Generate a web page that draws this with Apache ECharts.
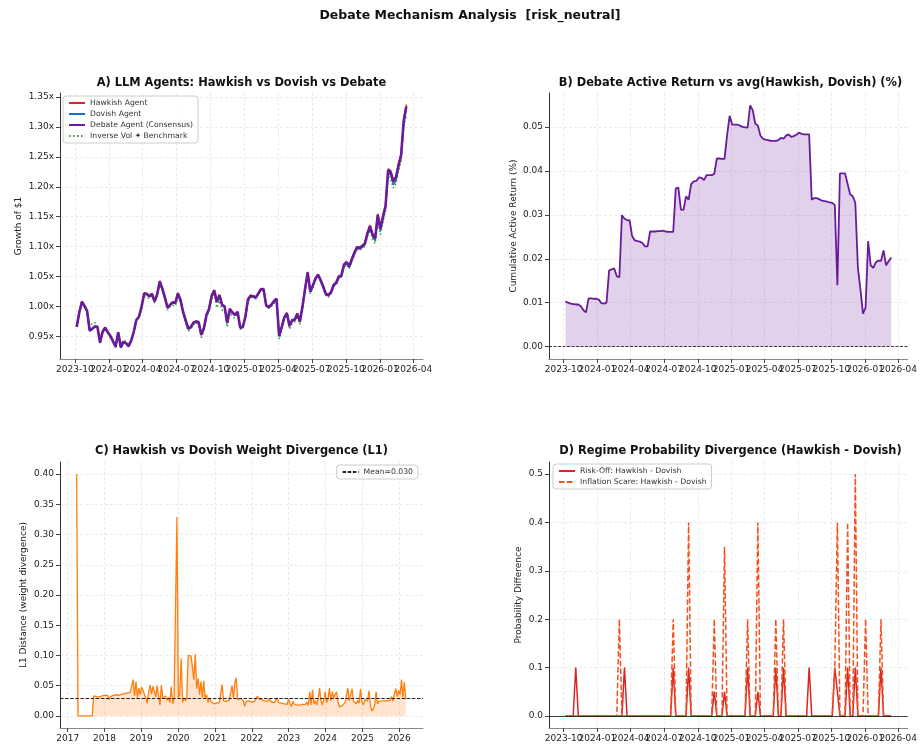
<!DOCTYPE html>
<html>
<head>
<meta charset="utf-8">
<title>Debate Mechanism Analysis</title>
<script src="https://cdn.jsdelivr.net/npm/echarts@6.0.0/dist/echarts.min.js"></script>
<style>
  html, body { margin: 0; padding: 0; background: #fff; }
  #main { width: 920px; height: 747px; }
</style>
</head>
<body>
<div id="main"></div>
<script>
// ---- data ----
// weekly dates (panels A, B, D) start 2023-10-06, 128 weeks
var weekStart = Date.UTC(2023, 9, 6);
var weekCount = 128;
// bi-weekly dates (panel C) start 2017-03-31, 234 points
var biStart = Date.UTC(2017, 2, 31);
var biCount = 234;

var quarterTicks = ['2023-10','2024-01','2024-04','2024-07','2024-10','2025-01','2025-04','2025-07','2025-10','2026-01','2026-04'];
var yearTicks = ['2017','2018','2019','2020','2021','2022','2023','2024','2025','2026'];
var growthTicks = [0.95, 1.00, 1.05, 1.10, 1.15, 1.20, 1.25, 1.30, 1.35];
var activeTicks = [0.00, 0.01, 0.02, 0.03, 0.04, 0.05];
var l1Ticks = [0.00, 0.05, 0.10, 0.15, 0.20, 0.25, 0.30, 0.35, 0.40];
var probTicks = [0.0, 0.1, 0.2, 0.3, 0.4, 0.5];

var debate = [0.966,0.990,1.008,1.001,0.993,0.960,0.963,0.967,0.966,0.940,
 0.958,0.965,0.957,0.951,0.942,0.933,0.957,0.932,0.941,0.939,
 0.934,0.943,0.958,0.978,0.983,1.000,1.022,1.021,1.017,1.021,
 1.009,1.020,1.042,1.030,1.015,0.998,1.003,1.007,1.006,1.022,
 1.011,0.991,0.977,0.963,0.966,0.973,0.975,0.974,0.953,0.964,
 0.986,0.996,1.018,1.027,1.008,1.019,1.003,1.000,0.973,0.996,
 0.990,0.986,0.991,0.965,0.966,0.983,1.012,1.018,1.017,1.015,
 1.022,1.029,1.029,1.002,0.999,1.003,1.009,1.013,0.951,0.966,
 0.982,0.989,0.968,0.977,0.978,0.988,0.975,1.000,1.030,1.057,
 1.025,1.035,1.047,1.053,1.044,1.033,1.021,1.019,1.024,1.036,
 1.040,1.050,1.052,1.070,1.074,1.067,1.079,1.090,1.099,1.098,
 1.101,1.105,1.122,1.134,1.120,1.114,1.153,1.130,1.150,1.168,
 1.228,1.224,1.209,1.215,1.236,1.253,1.310,1.334];

var hawkish = [0.966,0.991,1.009,1.002,0.993,0.961,0.963,0.967,0.966,0.940,
 0.958,0.965,0.957,0.951,0.942,0.933,0.957,0.932,0.941,0.939,
 0.934,0.943,0.958,0.978,0.984,1.001,1.023,1.022,1.018,1.022,
 1.010,1.021,1.043,1.031,1.016,0.999,1.004,1.008,1.007,1.023,
 1.012,0.992,0.978,0.964,0.967,0.974,0.976,0.975,0.954,0.965,
 0.987,0.997,1.019,1.028,1.009,1.020,1.004,1.001,0.974,0.997,
 0.991,0.987,0.992,0.966,0.967,0.984,1.013,1.019,1.018,1.016,
 1.023,1.030,1.030,1.003,1.000,1.004,1.010,1.014,0.952,0.967,
 0.983,0.990,0.969,0.978,0.979,0.989,0.976,1.001,1.031,1.058,
 1.026,1.036,1.048,1.054,1.045,1.034,1.022,1.020,1.025,1.037,
 1.041,1.051,1.053,1.071,1.075,1.068,1.080,1.091,1.100,1.099,
 1.102,1.106,1.123,1.136,1.122,1.116,1.155,1.132,1.152,1.170,
 1.230,1.227,1.211,1.217,1.238,1.255,1.313,1.337];

var dovish = [0.966,0.989,1.007,1.000,0.992,0.959,0.962,0.966,0.965,0.939,
 0.957,0.964,0.956,0.950,0.941,0.932,0.956,0.931,0.940,0.938,
 0.933,0.942,0.957,0.977,0.982,0.999,1.021,1.020,1.016,1.020,
 1.008,1.019,1.041,1.029,1.014,0.997,1.002,1.006,1.005,1.021,
 1.010,0.990,0.976,0.962,0.965,0.972,0.974,0.973,0.952,0.963,
 0.985,0.995,1.017,1.026,1.007,1.018,1.002,0.999,0.972,0.995,
 0.989,0.985,0.990,0.964,0.965,0.982,1.011,1.017,1.016,1.014,
 1.021,1.028,1.028,1.001,0.998,1.002,1.008,1.012,0.950,0.965,
 0.981,0.988,0.967,0.976,0.977,0.987,0.974,0.999,1.029,1.056,
 1.024,1.034,1.046,1.052,1.043,1.032,1.020,1.018,1.023,1.035,
 1.038,1.048,1.050,1.068,1.072,1.065,1.077,1.088,1.097,1.096,
 1.099,1.103,1.120,1.131,1.117,1.110,1.150,1.126,1.146,1.165,
 1.224,1.219,1.203,1.210,1.232,1.249,1.306,1.331];

var benchmark = [0.966,0.988,1.006,1.000,0.990,0.963,0.972,0.973,0.968,0.944,
 0.960,0.962,0.955,0.948,0.944,0.937,0.952,0.936,0.944,0.942,
 0.937,0.945,0.960,0.977,0.981,0.996,1.016,1.015,1.013,1.018,
 1.006,1.016,1.038,1.027,1.012,0.994,1.000,1.002,1.001,1.016,
 1.005,0.986,0.972,0.959,0.963,0.970,0.973,0.970,0.948,0.960,
 0.981,0.992,1.012,1.020,0.998,1.010,0.994,0.993,0.966,0.990,
 0.983,0.981,0.986,0.962,0.963,0.980,1.008,1.015,1.015,1.013,
 1.020,1.027,1.027,1.000,0.997,1.000,1.005,1.009,0.946,0.962,
 0.978,0.984,0.962,0.972,0.974,0.984,0.970,0.996,1.026,1.053,
 1.021,1.032,1.044,1.050,1.041,1.030,1.018,1.016,1.021,1.033,
 1.037,1.047,1.049,1.066,1.070,1.063,1.075,1.086,1.095,1.094,
 1.097,1.100,1.116,1.128,1.112,1.105,1.144,1.120,1.140,1.160,
 1.218,1.212,1.198,1.205,1.226,1.243,1.300,1.318];

var activeReturn = [0.0103,0.0100,0.0098,0.0097,0.0096,0.0096,0.0092,0.0083,0.0078,0.0110,
 0.0110,0.0109,0.0109,0.0107,0.0099,0.0098,0.0100,0.0173,0.0176,0.0178,
 0.0160,0.0158,0.0299,0.0291,0.0288,0.0287,0.0251,0.0242,0.0240,0.0239,
 0.0236,0.0228,0.0228,0.0262,0.0262,0.0262,0.0263,0.0263,0.0264,0.0262,
 0.0261,0.0261,0.0261,0.0360,0.0362,0.0312,0.0311,0.0342,0.0334,0.0370,
 0.0376,0.0377,0.0385,0.0384,0.0379,0.0390,0.0390,0.0390,0.0393,0.0428,
 0.0428,0.0427,0.0427,0.0481,0.0525,0.0505,0.0505,0.0505,0.0503,0.0500,
 0.0499,0.0498,0.0549,0.0538,0.0507,0.0503,0.0480,0.0473,0.0471,0.0470,
 0.0468,0.0468,0.0468,0.0470,0.0475,0.0473,0.0480,0.0483,0.0477,0.0479,
 0.0482,0.0487,0.0484,0.0483,0.0483,0.0483,0.0334,0.0338,0.0338,0.0335,
 0.0332,0.0331,0.0330,0.0328,0.0327,0.0322,0.0140,0.0394,0.0394,0.0394,
 0.0370,0.0346,0.0342,0.0327,0.0180,0.0130,0.0075,0.0089,0.0240,0.0185,
 0.0179,0.0192,0.0196,0.0195,0.0219,0.0185,0.0195,0.0203];

var l1Dist = [0.400,0,0,0,0,0,0,0,0,0,
 0,0,0.033,0.031,0.032,0.033,0.031,0.034,0.033,0.035,
 0.034,0.033,0.034,0.027,0.032,0.033,0.034,0.032,0.035,0.036,
 0.034,0.037,0.036,0.035,0.037,0.036,0.038,0.036,0.039,0.037,
 0.060,0.033,0.057,0.030,0.046,0.035,0.048,0.042,0.045,0.029,
 0.021,0.040,0.051,0.036,0.049,0.052,0.031,0.050,0.032,0.018,
 0.051,0.030,0.028,0.033,0.026,0.030,0.022,0.048,0.020,0.028,
 0.030,0.329,0.030,0.035,0.095,0.022,0.030,0.025,0.030,0.100,
 0.100,0.099,0.100,0.060,0.102,0.045,0.062,0.035,0.057,0.030,
 0.058,0.028,0.035,0.022,0.030,0.024,0.026,0.020,0.019,0.021,
 0.021,0.022,0.024,0.052,0.025,0.026,0.024,0.027,0.026,0.028,
 0.050,0.030,0.055,0.063,0.027,0.026,0.029,0.027,0.025,0.016,
 0.024,0.026,0.025,0.024,0.023,0.020,0.024,0.029,0.033,0.028,
 0.030,0.027,0.029,0.025,0.027,0.024,0.028,0.025,0.023,0.026,
 0.022,0.025,0.030,0.022,0.024,0.021,0.023,0.020,0.022,0.019,
 0.028,0.021,0.015,0.024,0.020,0.019,0.018,0.019,0.018,0.018,
 0.019,0.018,0.019,0.023,0.017,0.040,0.018,0.043,0.020,0.025,
 0.018,0.028,0.046,0.024,0.018,0.027,0.040,0.022,0.028,0.046,
 0.025,0.040,0.030,0.027,0.040,0.024,0.015,0.016,0.017,0.020,
 0.022,0.023,0.046,0.025,0.026,0.045,0.024,0.025,0.020,0.026,
 0.021,0.045,0.023,0.018,0.027,0.024,0.025,0.042,0.018,0.008,
 0.012,0.017,0.040,0.020,0.024,0.026,0.025,0.024,0.025,0.026,
 0.025,0.027,0.026,0.032,0.024,0.037,0.045,0.032,0.042,0.035,
 0.060,0.030,0.056,0.027];
var l1Mean = 0.030;

var riskOff = [0,0,0,0,0.1,0,0,0,0,0,
 0,0,0,0,0,0,0,0,0,0,
 0,0,0,0.1,0,0,0,0,0,0,
 0,0,0,0,0,0,0,0,0,0,
 0,0,0.1,0,0,0,0,0,0.1,0,
 0,0,0,0,0,0,0,0,0.05,0,
 0,0,0.05,0,0,0,0,0,0,0,
 0,0.1,0,0,0,0.05,0,0,0,0,
 0,0,0.1,0,0,0.1,0,0,0,0,
 0,0,0,0,0,0.1,0,0,0,0,
 0,0,0,0,0,0.1,0.05,0,0,0,
 0.1,0,0,0.1,0,0,0,0,0,0,
 0,0,0,0.1,0,0,0,0];

var inflationScare = [0,0,0,0,0,0,0,0,0,0,
 0,0,0,0,0,0,0,0,0,0,
 0,0.2,0,0,0,0,0,0,0,0,
 0,0,0,0,0,0,0,0,0,0,
 0,0,0.2,0,0,0,0,0,0.4,0,
 0,0,0,0,0,0,0,0,0.2,0,
 0,0,0.35,0,0,0,0,0,0,0,
 0,0.2,0,0,0,0.4,0,0,0,0,
 0,0,0.2,0,0,0.2,0,0,0,0,
 0,0,0,0,0,0,0,0,0,0,
 0,0,0,0,0,0.1,0.4,0,0,0,
 0.4,0,0,0.5,0,0,0,0.2,0,0,
 0,0,0,0.2,0,0,0,0];

// ---- helpers ----
var DAY = 86400000;
var weekDates = [];
for (var i = 0; i < weekCount; i++) weekDates.push(weekStart + i * 7 * DAY);
var biDates = [];
for (var j = 0; j < biCount; j++) biDates.push(biStart + j * 14 * DAY);

function pairs(dates, vals) { return vals.map(function (v, k) { return [dates[k], v]; }); }
function ym(s) { var p = s.split('-'); return Date.UTC(+p[0], p[1] ? +p[1] - 1 : 0, 1); }
var quarterVals = quarterTicks.map(ym);
var quarterEven = quarterVals.filter(function (v, k) { return k % 2 === 0; });
var quarterOdd = quarterVals.filter(function (v, k) { return k % 2 === 1; });
var yearVals = yearTicks.map(ym);
function fmtYM(v) { var d = new Date(v); var m = d.getUTCMonth() + 1; return d.getUTCFullYear() + '-' + (m < 10 ? '0' + m : m); }
function fmtY(v) { return String(new Date(v).getUTCFullYear()); }

var FONT = 'DejaVu Sans';
var gridLine = { show: true, lineStyle: { color: '#e6e6e6', type: [3, 2], width: 0.8 } };
var labelStyle = { fontSize: 9, color: '#222', fontFamily: FONT };

// dates are plotted on a numeric axis (ms timestamps) so the quarter/year ticks can be placed exactly
function dateAxis(gi, min, max, ticks, labels, fmt) {
  return {
    type: 'value', gridIndex: gi, min: min, max: max, scale: true, position: 'bottom',
    axisLine: { show: true, onZero: false, lineStyle: { color: '#888', width: 1 } },
    axisTick: { show: true, length: 4, customValues: ticks, lineStyle: { color: '#444' } },
    axisLabel: Object.assign({ customValues: labels, formatter: fmt, margin: 6, hideOverlap: false }, labelStyle),
    splitLine: gridLine
  };
}
// label-only twin axis: carries the other half of the crowded quarter labels
function labelAxis(gi, min, max, labels, fmt) {
  return {
    type: 'value', gridIndex: gi, min: min, max: max, scale: true, position: 'bottom', offset: 0,
    axisLine: { show: false, onZero: false }, axisTick: { show: false }, splitLine: { show: false },
    axisLabel: Object.assign({ customValues: labels, formatter: fmt, margin: 6, hideOverlap: false }, labelStyle)
  };
}
function valueAxis(gi, min, max, ticks, fmt, name, gap) {
  return {
    type: 'value', gridIndex: gi, min: min, max: max,
    name: name, nameLocation: 'middle', nameGap: gap,
    nameTextStyle: { fontSize: 9, color: '#222', fontFamily: FONT },
    axisLine: { show: true, lineStyle: { color: '#333', width: 1 } },
    axisTick: { show: true, length: 4, customValues: ticks, lineStyle: { color: '#444' } },
    axisLabel: Object.assign({ customValues: ticks, formatter: fmt, margin: 6 }, labelStyle),
    splitLine: gridLine
  };
}
function panelTitle(text, x, top) {
  return { text: text, left: x, top: top, textAlign: 'center', padding: 0,
    textStyle: { fontSize: 11.4, fontWeight: 'bold', color: '#111', fontFamily: FONT } };
}
var legendBase = {
  orient: 'vertical', itemWidth: 16, itemHeight: 8, itemGap: 3,
  itemStyle: { opacity: 0 },
  textStyle: { fontSize: 7.7, color: '#333', fontFamily: FONT },
  borderColor: '#ccc', borderWidth: 1, borderRadius: 3, padding: [3, 5, 3, 5],
  backgroundColor: 'rgba(255,255,255,0.85)'
};

var tMin = Date.UTC(2023, 7, 22), tMax = Date.UTC(2026, 3, 27);
var cMin = Date.UTC(2016, 9, 17), cMax = Date.UTC(2026, 7, 24);
var meanName = 'Mean=' + l1Mean.toFixed(3);

var chart = echarts.init(document.getElementById('main'));
var option = {
  animation: false,
  backgroundColor: '#fff',
  title: [
    { text: 'Debate Mechanism Analysis  [risk_neutral]', left: 470, top: 9, textAlign: 'center', padding: 0,
      textStyle: { fontSize: 12.5, fontWeight: 'bold', color: '#111', fontFamily: FONT } },
    panelTitle('A) LLM Agents: Hawkish vs Dovish vs Debate', 241.5, 78),
    panelTitle('B) Debate Active Return vs avg(Hawkish, Dovish) (%)', 730.5, 78),
    panelTitle('C) Hawkish vs Dovish Weight Divergence (L1)', 241.5, 446),
    panelTitle('D) Regime Probability Divergence (Hawkish - Dovish)', 730.5, 446)
  ],
  legend: [
    Object.assign({}, legendBase, { left: 63, top: 96,
      data: ['Hawkish Agent', 'Dovish Agent', 'Debate Agent (Consensus)', 'Inverse Vol ✦ Benchmark'] }),
    Object.assign({}, legendBase, { right: 502, top: 465, data: [meanName] }),
    Object.assign({}, legendBase, { left: 553, top: 464,
      data: ['Risk-Off: Hawkish - Dovish', 'Inflation Scare: Hawkish - Dovish'] })
  ],
  grid: [
    { left: 60, top: 93, width: 363, height: 266 },
    { left: 549, top: 93, width: 363, height: 266 },
    { left: 60, top: 462, width: 363, height: 266 },
    { left: 549, top: 462, width: 363, height: 266 }
  ],
  xAxis: [
    dateAxis(0, tMin, tMax, quarterVals, quarterEven, fmtYM),
    dateAxis(1, tMin, tMax, quarterVals, quarterEven, fmtYM),
    dateAxis(2, cMin, cMax, yearVals, yearVals, fmtY),
    dateAxis(3, tMin, tMax, quarterVals, quarterEven, fmtYM),
    labelAxis(0, tMin, tMax, quarterOdd, fmtYM),
    labelAxis(1, tMin, tMax, quarterOdd, fmtYM),
    labelAxis(3, tMin, tMax, quarterOdd, fmtYM)
  ],
  yAxis: [
    valueAxis(0, 0.9125, 1.3565, growthTicks, function (v) { return v.toFixed(2) + 'x'; }, 'Growth of $1', 37),
    valueAxis(1, -0.0028, 0.0577, activeTicks, function (v) { return v.toFixed(2); }, 'Cumulative Active Return (%)', 31),
    valueAxis(2, -0.02, 0.42, l1Ticks, function (v) { return v.toFixed(2); }, 'L1 Distance (weight divergence)', 32),
    valueAxis(3, -0.025, 0.525, probTicks, function (v) { return v.toFixed(1); }, 'Probability Difference', 26)
  ],
  series: [
    { name: 'Hawkish Agent', type: 'line', xAxisIndex: 0, yAxisIndex: 0, symbol: 'none', z: 2,
      data: pairs(weekDates, hawkish), lineStyle: { color: '#d62728', width: 1.5 }, itemStyle: { color: '#d62728' } },
    { name: 'Dovish Agent', type: 'line', xAxisIndex: 0, yAxisIndex: 0, symbol: 'none', z: 2,
      data: pairs(weekDates, dovish), lineStyle: { color: '#1f6fc6', width: 1.5 }, itemStyle: { color: '#1f6fc6' } },
    { name: 'Inverse Vol ✦ Benchmark', type: 'line', xAxisIndex: 0, yAxisIndex: 0, symbol: 'none', z: 2,
      data: pairs(weekDates, benchmark), lineStyle: { color: '#2ca02c', width: 1.5, type: [1.5, 2.5] }, itemStyle: { color: '#2ca02c' } },
    { name: 'Debate Agent (Consensus)', type: 'line', xAxisIndex: 0, yAxisIndex: 0, symbol: 'none', z: 3,
      data: pairs(weekDates, debate), lineStyle: { color: '#6a1b9a', width: 2.6 }, itemStyle: { color: '#6a1b9a' } },

    { name: 'Active Return', type: 'line', xAxisIndex: 1, yAxisIndex: 1, symbol: 'none',
      data: pairs(weekDates, activeReturn),
      lineStyle: { color: '#6a1b9a', width: 1.8 }, itemStyle: { color: '#6a1b9a' },
      areaStyle: { color: '#6a1b9a', opacity: 0.2 },
      markLine: { silent: true, symbol: 'none', label: { show: false },
        lineStyle: { color: '#111', width: 0.8, type: [3, 1.5] }, data: [{ yAxis: 0 }] } },

    { name: 'L1', type: 'line', xAxisIndex: 2, yAxisIndex: 2, symbol: 'none',
      data: pairs(biDates, l1Dist),
      lineStyle: { color: '#ff7f0e', width: 1.3 }, itemStyle: { color: '#ff7f0e' },
      areaStyle: { color: '#ff7f0e', opacity: 0.2 } },
    { name: meanName, type: 'line', xAxisIndex: 2, yAxisIndex: 2, symbol: 'none', data: [],
      lineStyle: { color: '#222', width: 1, type: [3.5, 1.6] }, itemStyle: { color: '#222' },
      markLine: { silent: true, symbol: 'none', label: { show: false },
        lineStyle: { color: '#222', width: 1, type: [3.5, 1.6] }, data: [{ yAxis: l1Mean }] } },

    { name: 'Risk-Off: Hawkish - Dovish', type: 'line', xAxisIndex: 3, yAxisIndex: 3, symbol: 'none',
      data: pairs(weekDates, riskOff), lineStyle: { color: '#d62728', width: 1.5 }, itemStyle: { color: '#d62728' } },
    { name: 'Inflation Scare: Hawkish - Dovish', type: 'line', xAxisIndex: 3, yAxisIndex: 3, symbol: 'none',
      data: pairs(weekDates, inflationScare), lineStyle: { color: '#f4511e', width: 1.5, type: [5.5, 2.4] }, itemStyle: { color: '#f4511e' },
      markLine: { silent: true, symbol: 'none', label: { show: false },
        lineStyle: { color: '#111', width: 0.8, type: 'solid' }, data: [{ yAxis: 0 }] } }
  ]
};
chart.setOption(option);
</script>
</body>
</html>
